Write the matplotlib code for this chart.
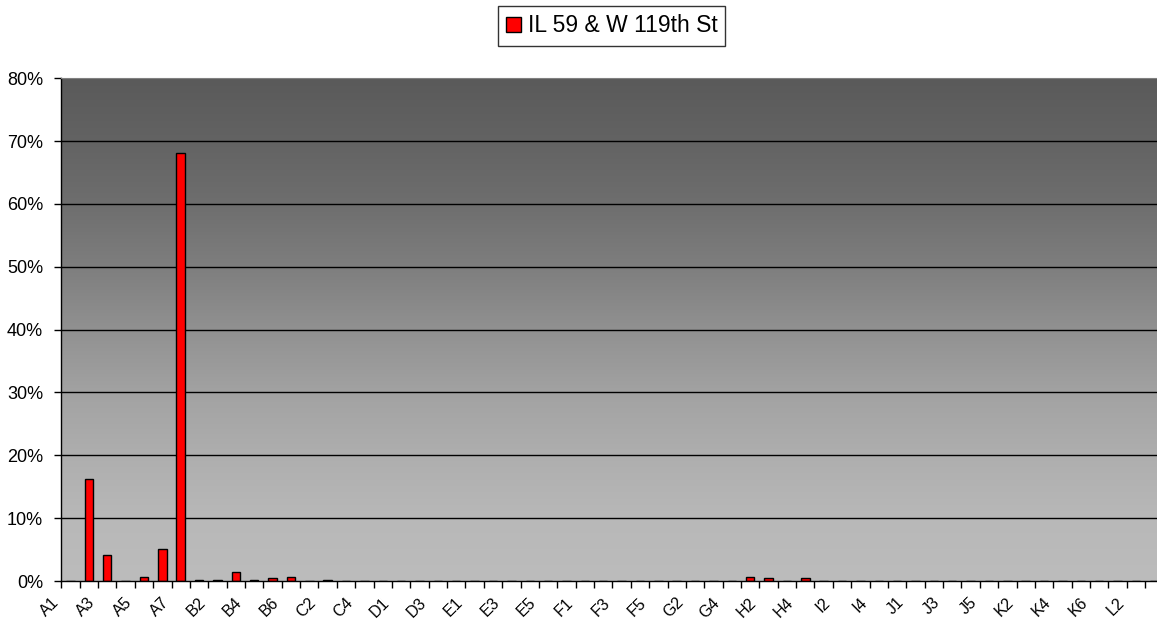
import numpy as np
import matplotlib
matplotlib.use("Agg")
import matplotlib.pyplot as plt
from matplotlib.transforms import ScaledTranslation

plt.rcParams['font.family'] = ['Liberation Sans', 'DejaVu Sans']

# category counts per letter group
groups = ["A", "B", "C", "D", "E", "F", "G", "H", "I", "J", "K", "L"]
group_sizes = [7, 6, 5, 4, 6, 5, 4, 4, 5, 5, 6, 3]
categories = [g + str(i + 1) for g, n in zip(groups, group_sizes) for i in range(n)]

# share of movements (%) per category, series "IL 59 & W 119th St"
values = {
    "A2": 16.3, "A3": 4.2, "A5": 0.6, "A6": 5.1, "A7": 68.1,
    "B1": 0.2, "B2": 0.2, "B3": 1.4, "B4": 0.2, "B5": 0.4, "B6": 0.6,
    "C2": 0.2,
    "H1": 0.7, "H2": 0.4, "H4": 0.4,
}
series_name = "IL 59 & W 119th St"
share = np.array([values.get(c, 0.0) for c in categories])

fig = plt.figure(figsize=(11.57, 6.25), dpi=100)
# plot area runs a little past the right edge, as in the reference
ax = fig.add_axes([61.3 / 1157, 44 / 625, (1163.5 - 61.3) / 1157, (581 - 78.3) / 625])

x = np.arange(len(categories))
ax.set_xlim(-0.5, len(categories) - 0.5)
ax.set_ylim(0, 80)

# gray gradient background
frac = np.array([0, 0.125, 0.25, 0.375, 0.5, 0.625, 0.75, 0.875, 1.0])
level = np.array([188, 184, 174, 162, 145, 126, 110, 99, 90]) / 255
yy = np.linspace(0, 1, 256)
grad = np.interp(yy, frac, level)
ax.imshow(np.dstack([grad, grad, grad]).reshape(256, 1, 3),
          extent=[0, 1, 0, 1], transform=ax.transAxes, origin="lower",
          aspect="auto", zorder=0)

for yv in range(10, 80, 10):
    ax.axhline(yv, color="black", linewidth=1, zorder=1)

ax.bar(x, share, width=0.46, color="#ff0000", edgecolor="black",
       linewidth=1, zorder=2, label=series_name)

# y axis
ax.set_yticks(range(0, 81, 10))
ax.set_yticklabels([f"{v}%" for v in range(0, 81, 10)])
ax.tick_params(axis="y", direction="out", length=5, width=1, pad=8, labelsize=13)

# x axis: tick marks at category boundaries, labels on every other category
ax.set_xticks(np.arange(-0.5, len(categories), 1), minor=True)
ax.set_xticks(x[::2])
ax.set_xticklabels(categories[::2], rotation=45, ha="right", va="top")
ax.tick_params(axis="x", which="major", length=0, pad=10, labelsize=11.5)
ax.tick_params(axis="x", which="minor", direction="out", length=5, width=1)
shift = ScaledTranslation(-9 / 100, 0, fig.dpi_scale_trans)
for lab in ax.get_xticklabels():
    lab.set_transform(lab.get_transform() + shift)

for side in ["left", "bottom"]:
    ax.spines[side].set_color("black")
    ax.spines[side].set_linewidth(1)
ax.spines["top"].set_color("#808080")
ax.spines["right"].set_visible(False)

leg = fig.legend(loc="center", bbox_to_anchor=(611.5 / 1157, 1 - 26 / 625),
                 fontsize=16.5, frameon=True, fancybox=False, edgecolor="black",
                 handlelength=0.65, handleheight=0.65, handletextpad=0.3,
                 borderpad=0.35, borderaxespad=0)
leg.get_frame().set_linewidth(1)

fig.savefig("out.png", dpi=100)
